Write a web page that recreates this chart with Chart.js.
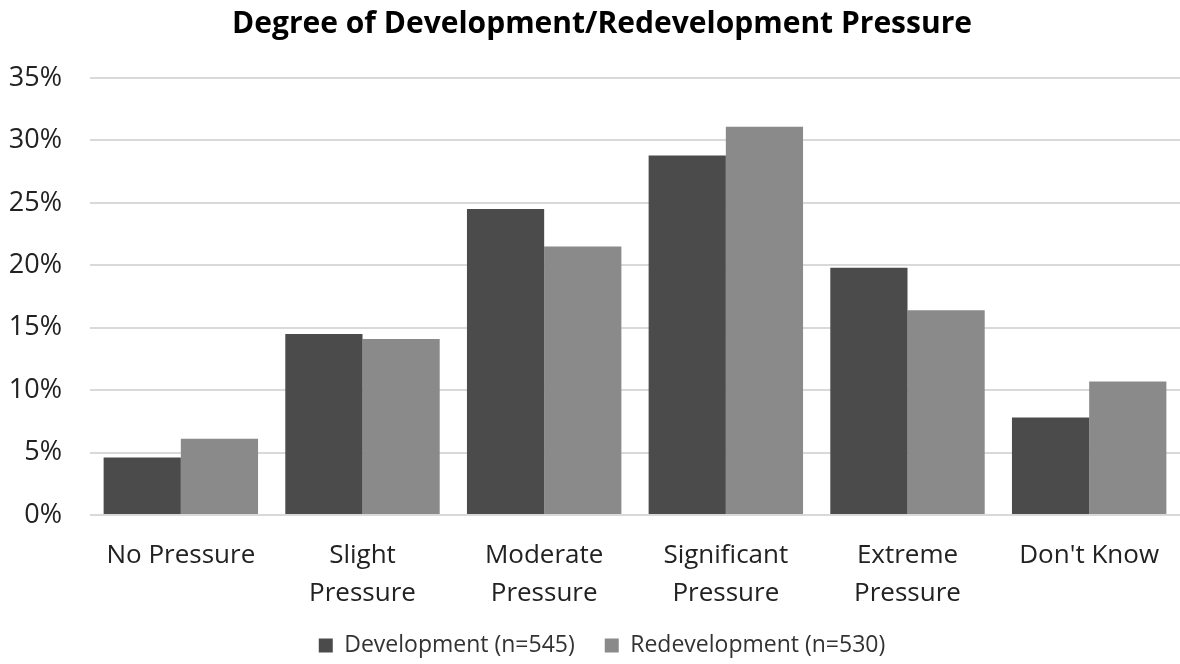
<!DOCTYPE html>
<html>
<head>
    <script src="https://cdn.jsdelivr.net/npm/chart.js"></script>
    <style>
        body { margin: 0; background: #fff; }
    </style>
</head>
<body>
<canvas id="pressureChart" width="1180" height="664"></canvas>

<script>
    const categories = [
        ['No Pressure'],
        ['Slight', 'Pressure'],
        ['Moderate', 'Pressure'],
        ['Significant', 'Pressure'],
        ['Extreme', 'Pressure'],
        ["Don't Know"]
    ];
    const development = [4.6, 14.5, 24.5, 28.8, 19.8, 7.8];
    const redevelopment = [6.1, 14.1, 21.5, 31.1, 16.4, 10.7];
    const yTicks = [0, 5, 10, 15, 20, 25, 30, 35];

    const font = "'Open Sans', 'Noto Sans', sans-serif";

    new Chart(document.getElementById('pressureChart'), {
        type: 'bar',
        data: {
            labels: categories,
            datasets: [{
                label: 'Development (n=545)',
                data: development,
                backgroundColor: '#4b4b4b',
                categoryPercentage: 0.85,
                barPercentage: 1
            }, {
                label: 'Redevelopment (n=530)',
                data: redevelopment,
                backgroundColor: '#8a8a8a',
                categoryPercentage: 0.85,
                barPercentage: 1
            }]
        },
        options: {
            responsive: false,
            animation: false,
            // plot runs slightly past the right edge, like the original crop
            layout: { padding: { left: 6, right: -18, top: 6, bottom: 0 } },
            plugins: {
                title: {
                    display: true,
                    text: 'Degree of Development/Redevelopment Pressure',
                    color: '#000',
                    font: { family: font, size: 30, weight: 'bold' },
                    padding: { top: 0, bottom: 36 }
                },
                legend: {
                    position: 'bottom',
                    maxHeight: 60,
                    labels: {
                        color: '#333',
                        font: { family: font, size: 23 },
                        boxWidth: 14,
                        boxHeight: 14,
                        padding: 30
                    }
                },
                tooltip: { enabled: false }
            },
            scales: {
                x: {
                    afterFit: axis => { axis.height = 89; },
                    grid: { display: false },
                    border: { display: false },
                    ticks: {
                        color: '#222',
                        font: { family: font, size: 26, lineHeight: 1.46 },
                        padding: 14,
                        maxRotation: 0
                    }
                },
                y: {
                    min: 0,
                    max: 35,
                    afterBuildTicks: axis => {
                        axis.ticks = yTicks.map(v => ({ value: v }));
                    },
                    afterFit: axis => { axis.width = 84; },
                    grid: { color: '#d9d9d9', lineWidth: 2, drawTicks: false },
                    border: { display: false },
                    ticks: {
                        color: '#222',
                        font: { family: font, size: 27 },
                        padding: 28,
                        callback: v => v + '%'
                    }
                }
            }
        }
    });
</script>
</body>
</html>
